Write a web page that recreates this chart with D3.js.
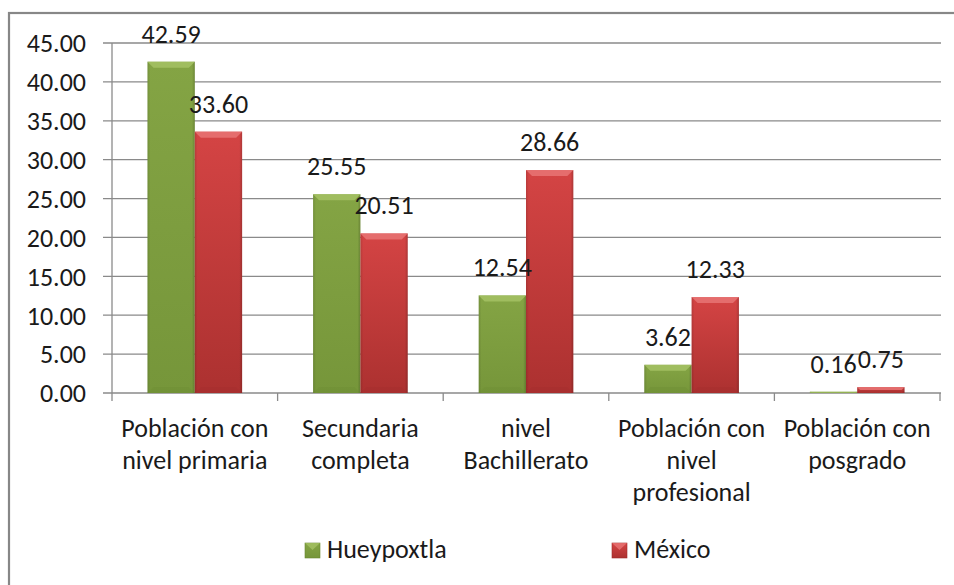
<!DOCTYPE html>
<html>
<head>
<meta charset="utf-8">
<script src="https://cdn.jsdelivr.net/npm/d3@7/dist/d3.min.js"></script>
<style>
  html, body { margin: 0; padding: 0; background: #fff; }
  svg { display: block; }
  text { font-family: Carlito, Calibri, Lato, "Open Sans", sans-serif; fill: #1a1a1a; }
</style>
</head>
<body>
<svg id="chart" width="954" height="585"></svg>
<script>
// ---- data ----
const categories = [
  ["Población con", "nivel primaria"],
  ["Secundaria", "completa"],
  ["nivel", "Bachillerato"],
  ["Población con", "nivel", "profesional"],
  ["Población con", "posgrado"]
];
const seriesNames = ["Hueypoxtla", "México"];
const hueypoxtla = [42.59, 25.55, 12.54, 3.62, 0.16];
const mexico = [33.60, 20.51, 28.66, 12.33, 0.75];
const yTicks = [0, 5, 10, 15, 20, 25, 30, 35, 40, 45];

const seriesValues = [hueypoxtla, mexico];
const catKeys = categories.map(c => c.join(" "));
const FS = 26;

const svg = d3.select("#chart");
const W = 954, H = 585;
const plot = { left: 112, right: 940, top: 43, bottom: 393 };

// frame
svg.append("rect").attr("x", 9).attr("y", 13).attr("width", W).attr("height", H)
  .attr("fill", "none").attr("stroke", "#878787").attr("stroke-width", 2.2);

const y = d3.scaleLinear().domain([0, 45]).range([plot.bottom, plot.top]);
const x0 = d3.scaleBand().domain(catKeys).range([plot.left, plot.right]).padding(0);
const x1 = d3.scaleBand().domain(seriesNames).range([0, x0.bandwidth()])
  .paddingInner(0).paddingOuter(0.75);

// defs: gradients
const defs = svg.append("defs");
const pal = {
  "Hueypoxtla": { dark: "#688630", light: "#A5C264", top: "#84A444", bot: "#76963a" },
  "México": { dark: "#9E2B2A", light: "#E87474", top: "#D44444", bot: "#AC3130" }
};
seriesNames.forEach((s, i) => {
  const p = pal[s];
  const gv = defs.append("linearGradient").attr("id", "gv" + i)
    .attr("x1", 0).attr("y1", 0).attr("x2", 0).attr("y2", 1);
  gv.append("stop").attr("offset", 0).attr("stop-color", p.top);
  gv.append("stop").attr("offset", 1).attr("stop-color", p.bot);
  const gh = defs.append("linearGradient").attr("id", "gh" + i)
    .attr("x1", 0).attr("y1", 0).attr("x2", 1).attr("y2", 0);
  gh.append("stop").attr("offset", 0).attr("stop-color", "#000").attr("stop-opacity", 0.12);
  gh.append("stop").attr("offset", 0.06).attr("stop-color", "#000").attr("stop-opacity", 0);
  gh.append("stop").attr("offset", 0.94).attr("stop-color", "#000").attr("stop-opacity", 0);
  gh.append("stop").attr("offset", 1).attr("stop-color", "#000").attr("stop-opacity", 0.18);
});

// gridlines + y tick labels
const grid = svg.append("g");
yTicks.forEach(t => {
  grid.append("line")
    .attr("x1", plot.left - 9).attr("x2", plot.right + 1)
    .attr("y1", y(t)).attr("y2", y(t))
    .attr("stroke", "#8a8a8a").attr("stroke-width", 1.3);
  grid.append("text")
    .attr("x", 86).attr("y", y(t)).attr("dy", "0.36em")
    .attr("text-anchor", "end").attr("font-size", FS)
    .text(d3.format(".2f")(t));
});
// y axis line
svg.append("line").attr("x1", plot.left).attr("x2", plot.left)
  .attr("y1", plot.top).attr("y2", plot.bottom + 8)
  .attr("stroke", "#8a8a8a").attr("stroke-width", 1.3);
// category tick marks
catKeys.forEach((k) => {
  const xx = x0(k) + x0.bandwidth();
  svg.append("line").attr("x1", xx).attr("x2", xx)
    .attr("y1", plot.bottom).attr("y2", plot.bottom + 8)
    .attr("stroke", "#8a8a8a").attr("stroke-width", 1.3);
});

// bars
const bars = svg.append("g");
catKeys.forEach((k, ci) => {
  seriesNames.forEach((s, si) => {
    const v = seriesValues[si][ci];
    const bx = x0(k) + x1(s);
    const bw = x1.bandwidth();
    const by = y(v);
    const bh = y(0) - y(v);
    const p = pal[s];
    const g = bars.append("g");
    g.append("rect").attr("x", bx).attr("y", by).attr("width", bw).attr("height", bh)
      .attr("fill", `url(#gv${si})`);
    g.append("rect").attr("x", bx).attr("y", by).attr("width", bw).attr("height", bh)
      .attr("fill", `url(#gh${si})`);
    const bev = Math.min(6, bh / 2);
    if (bh > 2) {
      g.append("path")
        .attr("d", `M${bx},${by} L${bx + bw},${by} L${bx + bw - bev},${by + bev} L${bx + bev},${by + bev} Z`)
        .attr("fill", p.light).attr("opacity", 0.85);
      g.append("path")
        .attr("d", `M${bx},${by + bh} L${bx + bw},${by + bh} L${bx + bw - bev},${by + bh - bev} L${bx + bev},${by + bh - bev} Z`)
        .attr("fill", p.dark).attr("opacity", 0.25);
    } else {
      g.append("rect").attr("x", bx).attr("y", by).attr("width", bw).attr("height", Math.max(bh, 0.5))
        .attr("fill", p.light).attr("opacity", 0.6);
    }
    svg.append("text")
      .attr("x", bx + bw / 2).attr("y", by - 19)
      .attr("text-anchor", "middle").attr("font-size", FS)
      .text(d3.format(".2f")(v));
  });
});

// category labels
catKeys.forEach((k, i) => {
  const cx = x0(k) + x0.bandwidth() / 2;
  const t = svg.append("text").attr("text-anchor", "middle").attr("font-size", FS);
  categories[i].forEach((line, li) => {
    t.append("tspan").attr("x", cx).attr("y", 437 + li * 32).text(line);
  });
});

// legend
const legendX = [305, 612];
seriesNames.forEach((s, si) => {
  const p = pal[s];
  const lg = svg.append("g");
  lg.append("rect").attr("x", legendX[si]).attr("y", 543).attr("width", 15).attr("height", 15)
    .attr("fill", `url(#gv${si})`).attr("stroke", p.dark).attr("stroke-width", 0.6);
  lg.append("path")
    .attr("d", `M${legendX[si]},543 L${legendX[si] + 15},543 L${legendX[si] + 7.5},550 Z`)
    .attr("fill", p.light).attr("opacity", 0.8);
  lg.append("text").attr("x", legendX[si] + 22).attr("y", 558)
    .attr("font-size", FS).text(s);
});
</script>
</body>
</html>
